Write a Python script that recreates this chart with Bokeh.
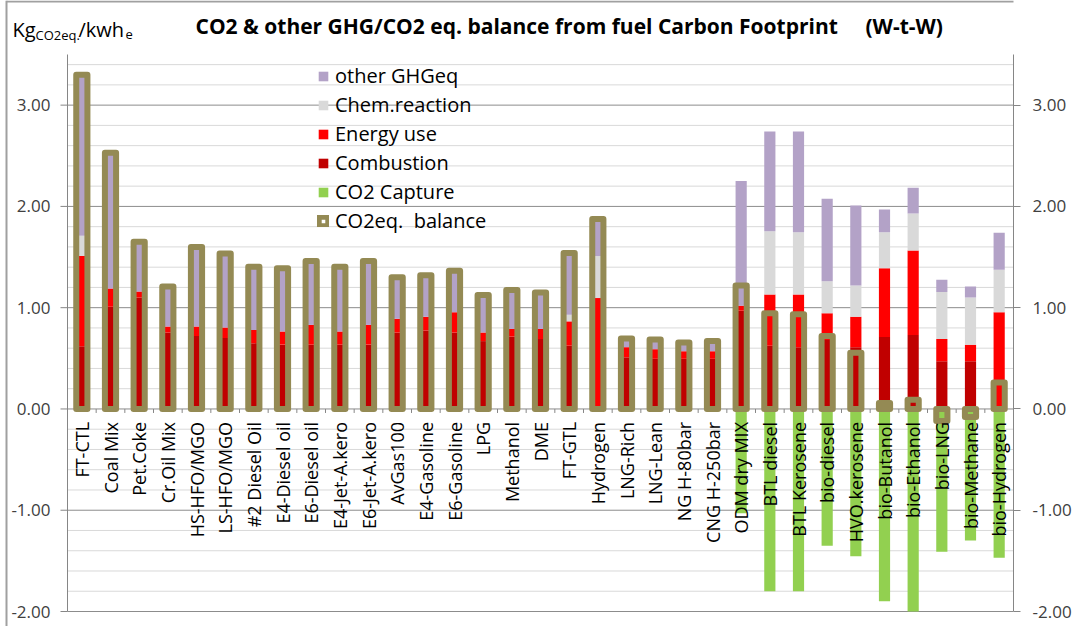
import math
from bokeh.plotting import figure
from bokeh.models import (Range1d, LinearAxis, FixedTicker, Legend, LegendItem,
                          Label, ColumnDataSource, CustomJSTickFormatter)
from bokeh.core.properties import value
from bokeh.embed import file_html
from bokeh.resources import INLINE

categories = ["FT-CTL", "Coal Mix", "Pet.Coke", "Cr.Oil Mix", "HS-HFO/MGO", "LS-HFO/MGO",
              "#2 Diesel Oil", "E4-Diesel oil", "E6-Diesel oil", "E4-Jet-A.kero", "E6-Jet-A.kero",
              "AvGas100", "E4-Gasoline", "E6-Gasoline", "LPG", "Methanol", "DME", "FT-GTL",
              "Hydrogen", "LNG-Rich", "LNG-Lean", "NG H-80bar", "CNG H-250bar", "ODM dry MIX",
              "BTL diesel", "BTL Kerosene", "bio-diesel", "HVO.kerosene", "bio-Butanol",
              "bio-Ethanol", "bio-LNG", "bio-Methane", "bio-Hydrogen"]

combustion = [0.62, 1.01, 1.10, 0.755, 0.72, 0.70, 0.65, 0.635, 0.635, 0.635, 0.635,
              0.755, 0.775, 0.755, 0.67, 0.715, 0.69, 0.625, 0.0, 0.51, 0.495, 0.495, 0.495,
              0.97, 0.625, 0.61, 0.68, 0.61, 0.71, 0.73, 0.47, 0.47, 0.0]
energy_use = [0.89, 0.18, 0.06, 0.06, 0.095, 0.105, 0.13, 0.13, 0.195, 0.13, 0.195,
              0.135, 0.135, 0.20, 0.085, 0.075, 0.10, 0.24, 1.095, 0.10, 0.095, 0.075, 0.075,
              0.05, 0.505, 0.52, 0.265, 0.30, 0.68, 0.835, 0.22, 0.165, 0.955]
chem_reaction = [0.20, 0.0, 0.0, 0.0, 0.0, 0.0, 0.0, 0.0, 0.0, 0.0, 0.0,
                 0.0, 0.0, 0.0, 0.0, 0.0, 0.0, 0.065, 0.415, 0.0, 0.0, 0.0, 0.0,
                 0.0, 0.625, 0.615, 0.315, 0.31, 0.355, 0.365, 0.465, 0.465, 0.42]
other_ghg = [1.59, 1.345, 0.49, 0.395, 0.785, 0.73, 0.625, 0.625, 0.63, 0.64, 0.63,
             0.41, 0.41, 0.41, 0.37, 0.385, 0.36, 0.61, 0.365, 0.085, 0.095, 0.085, 0.10,
             1.23, 0.985, 0.995, 0.815, 0.79, 0.225, 0.255, 0.12, 0.11, 0.365]
co2_capture = [0.0] * 23 + [-1.03, -1.80, -1.80, -1.35, -1.455, -1.90, -2.0, -1.41, -1.30, -1.47]
balance = [3.30, 2.53, 1.65, 1.21, 1.60, 1.535, 1.405, 1.39, 1.46, 1.405, 1.46,
           1.30, 1.32, 1.365, 1.125, 1.175, 1.15, 1.54, 1.875, 0.695, 0.685, 0.655, 0.67,
           1.22, 0.945, 0.935, 0.72, 0.555, 0.06, 0.09, -0.12, -0.08, 0.26]

y_ticks = [-2, -1, 0, 1, 2, 3]
y_tick_labels = ["-2.00", "-1.00", "0.00", "1.00", "2.00", "3.00"]
y_minor = [round(-2 + 0.2 * k, 1) for k in range(28) if round(-2 + 0.2 * k, 1) not in (-2, -1, 0, 1, 2, 3)]
y_min, y_max = -2.0, 3.5

n = len(categories)
xs = list(range(n))

C_OTHER, C_CHEM, C_ENERGY, C_COMB, C_CAPT, C_BAL = "#B3A2C7", "#D9D9D9", "#FF0000", "#C00000", "#92D050", "#948A54"
FONT = "Open Sans"
GRID_MAJOR, GRID_MINOR, AXIS_C = "#8C8C8C", "#D9D9D9", "#868686"

# page geometry (pixels)
W, H = 1076, 626
AX_L, AX_R, AX_T, AX_B = 67, 1013, 54, 611
ppx = (AX_R - AX_L) / n
ppy = (AX_B - AX_T) / (y_max - y_min)
x0 = -0.5 - AX_L / ppx
y1 = y_max + AX_T / ppy
y0 = y_min - (H - AX_B) / ppy

def px2x(px):
    return x0 + px / ppx

def px2y(py):
    return y1 - py / ppy

src = ColumnDataSource(dict(x=xs, cat=categories, comb=combustion, energy=energy_use,
                            chem=chem_reaction, other=other_ghg, capt=co2_capture,
                            bal=balance, zero=[0.0] * n))

p = figure(width=W, height=H, output_backend="svg", toolbar_location=None,
           x_range=Range1d(x0, n - 0.5), y_range=Range1d(y0, y1),
           min_border=0, min_border_left=0, min_border_right=W - AX_R,
           min_border_top=0, min_border_bottom=0)
p.outline_line_color = None
p.xaxis.visible = False
p.yaxis.visible = False
p.grid.visible = False

# chart-area border (left and top edges)
p.segment(x0=[px2x(6), px2x(6)], x1=[px2x(6), px2x(1052)], y0=[px2y(0), px2y(1)], y1=[px2y(H), px2y(1)],
          line_color="#A0A0A0", line_width=2)

# grid lines (manual, limited to plot area)
p.segment(x0=[-0.5] * len(y_minor), x1=[n - 0.5] * len(y_minor), y0=y_minor, y1=y_minor,
          line_color=GRID_MINOR, line_width=1)
p.segment(x0=[-0.5] * len(y_ticks), x1=[n - 0.5] * len(y_ticks), y0=y_ticks, y1=y_ticks,
          line_color=GRID_MAJOR, line_width=1)

BW = 0.39
stack = p.vbar_stack(["comb", "energy", "chem", "other"], x="x", width=BW, source=src,
                     color=[C_COMB, C_ENERGY, C_CHEM, C_OTHER], line_alpha=0)
capt = p.vbar(x="x", top="zero", bottom="capt", width=BW, source=src, fill_color=C_CAPT, line_alpha=0)
bal = p.vbar(x="x", top="bal", bottom="zero", width=BW, source=src, fill_alpha=0,
             line_color=C_BAL, line_width=6, line_join="round")

# category boundary ticks on the zero line
bounds = [k - 0.5 for k in range(n + 1)]
p.segment(x0=bounds, x1=bounds, y0=[0.0] * (n + 1), y1=[-4 / ppy] * (n + 1), line_color=AXIS_C, line_width=1)

p.text(x="x", y="zero", text="cat", source=src, angle=math.pi / 2, text_align="right",
       text_baseline="middle", y_offset=13, text_font=value(FONT), text_font_size="18px",
       text_color="#000000")

# left axis (manual)
p.segment(x0=[-0.5], x1=[-0.5], y0=[y_min], y1=[y_max], line_color=AXIS_C, line_width=1)
p.segment(x0=[-0.5] * len(y_ticks), x1=[-0.5 - 7 / ppx] * len(y_ticks), y0=y_ticks, y1=y_ticks,
          line_color=AXIS_C, line_width=1)
p.text(x=[-0.5] * len(y_ticks), y=y_ticks, text=y_tick_labels, x_offset=-17, text_align="right",
       text_baseline="middle", text_font=value(FONT), text_font_size="17px", text_color="#404040")

# right axis
fmt = CustomJSTickFormatter(code="return tick.toFixed(2);")
right = LinearAxis(ticker=FixedTicker(ticks=y_ticks), formatter=fmt, bounds=(y_min, y_max))
right.axis_line_color = AXIS_C
right.major_tick_line_color = AXIS_C
right.major_tick_out = 7
right.major_tick_in = 0
right.minor_tick_line_color = None
right.major_label_text_font = FONT
right.major_label_text_font_size = "17px"
right.major_label_text_color = "#404040"
right.major_label_standoff = 12
p.add_layout(right, "right")

legend = Legend(items=[
    LegendItem(label="other GHGeq", renderers=[stack[3]]),
    LegendItem(label="Chem.reaction", renderers=[stack[2]]),
    LegendItem(label="Energy use", renderers=[stack[1]]),
    LegendItem(label="Combustion", renderers=[stack[0]]),
    LegendItem(label="CO2 Capture", renderers=[capt]),
    LegendItem(label="CO2eq.  balance", renderers=[bal]),
], location=(317, H - 235), glyph_width=12, glyph_height=12, label_standoff=6,
    label_text_font=FONT, label_text_font_size="20px", label_text_color="#000000",
    label_height=29, spacing=0, padding=0, margin=0,
    background_fill_alpha=0, border_line_alpha=0)
p.add_layout(legend, "center")

def lab(text, px, py_base, size, bold=False):
    p.add_layout(Label(x=px2x(px), y=px2y(py_base), text=text, text_font=FONT,
                       text_font_size=size, text_font_style="bold" if bold else "normal",
                       text_baseline="alphabetic", text_color="#000000"))

lab("CO2 & other GHG/CO2 eq. balance from fuel Carbon Footprint", 195, 25, "21px", True)
lab("(W-t-W)", 865, 25, "21px", True)
lab("Kg", 12, 29, "20px")
lab("CO2eq.", 35, 34, "13px")
lab("/kwh", 78, 29, "20px")
lab("e", 125, 34, "13px")

open("out.html", "w").write(file_html(p, INLINE))
